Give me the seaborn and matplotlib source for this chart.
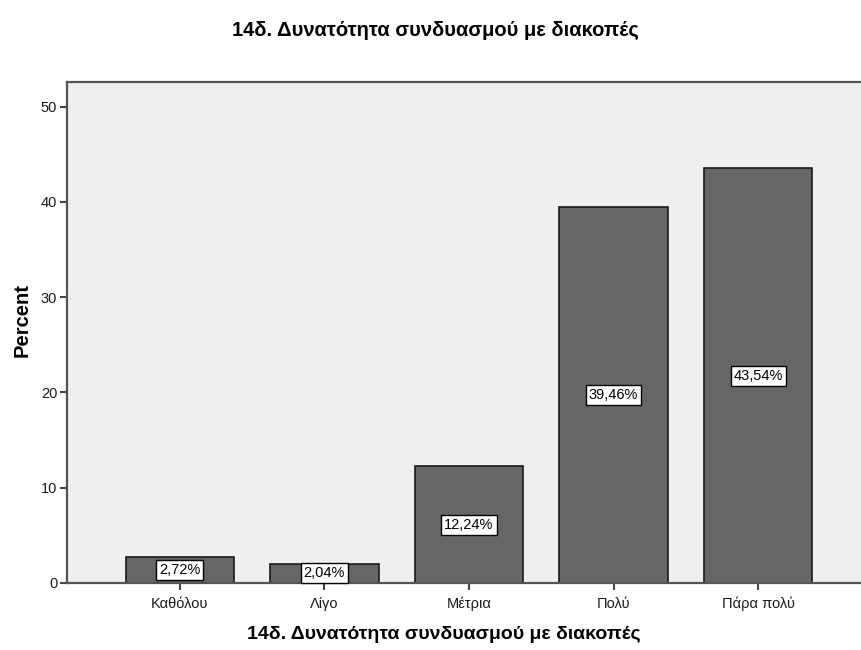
import matplotlib
matplotlib.use('Agg')
import matplotlib.pyplot as plt
import pandas as pd
import seaborn as sns

title = '14δ. Δυνατότητα συνδυασμού με διακοπές'
categories = ['Καθόλου', 'Λίγο', 'Μέτρια', 'Πολύ', 'Πάρα πολύ']
percents = [2.72, 2.04, 12.24, 39.46, 43.54]
y_ticks = [0, 10, 20, 30, 40, 50]

df = pd.DataFrame({'category': categories, 'percent': percents})

sns.set_theme(style='ticks')
plt.rcParams['font.family'] = ['Liberation Sans', 'DejaVu Sans']

fig = plt.figure(figsize=(8.61, 6.5), dpi=100)
ax = fig.add_axes([0.0778, 0.1031, 0.9338, 0.7708])
ax.set_facecolor('#efefef')

sns.barplot(data=df, x='category', y='percent', color='#666666', saturation=1,
            edgecolor='#1a1a1a', linewidth=1.2, width=0.75, ax=ax)

ax.set_ylim(0, 52.6)
ax.set_xlim(-0.78, len(categories) - 1 + 0.78)
ax.set_yticks(y_ticks)
ax.tick_params(axis='both', labelsize=10.5, length=5, width=1.5, color='#444444',
               labelcolor='#1a1a1a', pad=2)
ax.tick_params(axis='x', pad=5)

for s in ax.spines.values():
    s.set_color('#555555')
    s.set_linewidth(1.6)

for i, v in enumerate(percents):
    ax.text(i, v / 2, '{:.2f}%'.format(v).replace('.', ','), ha='center', va='center',
            fontsize=10.5, color='black',
            bbox=dict(boxstyle='square,pad=0.2', fc='white', ec='black', lw=1))

ax.set_xlabel('')
ax.set_ylabel('')
fig.text(0.506, 0.953, title, ha='center', va='center', fontsize=14.5,
         fontweight='bold', color='black')
fig.text(0.516, 0.024, title, ha='center', va='center', fontsize=14,
         fontweight='bold', color='black')
fig.text(0.026, 0.508, 'Percent', ha='center', va='center', rotation=90,
         fontsize=14.5, fontweight='bold', color='black')

plt.savefig('out.png', dpi=100)
